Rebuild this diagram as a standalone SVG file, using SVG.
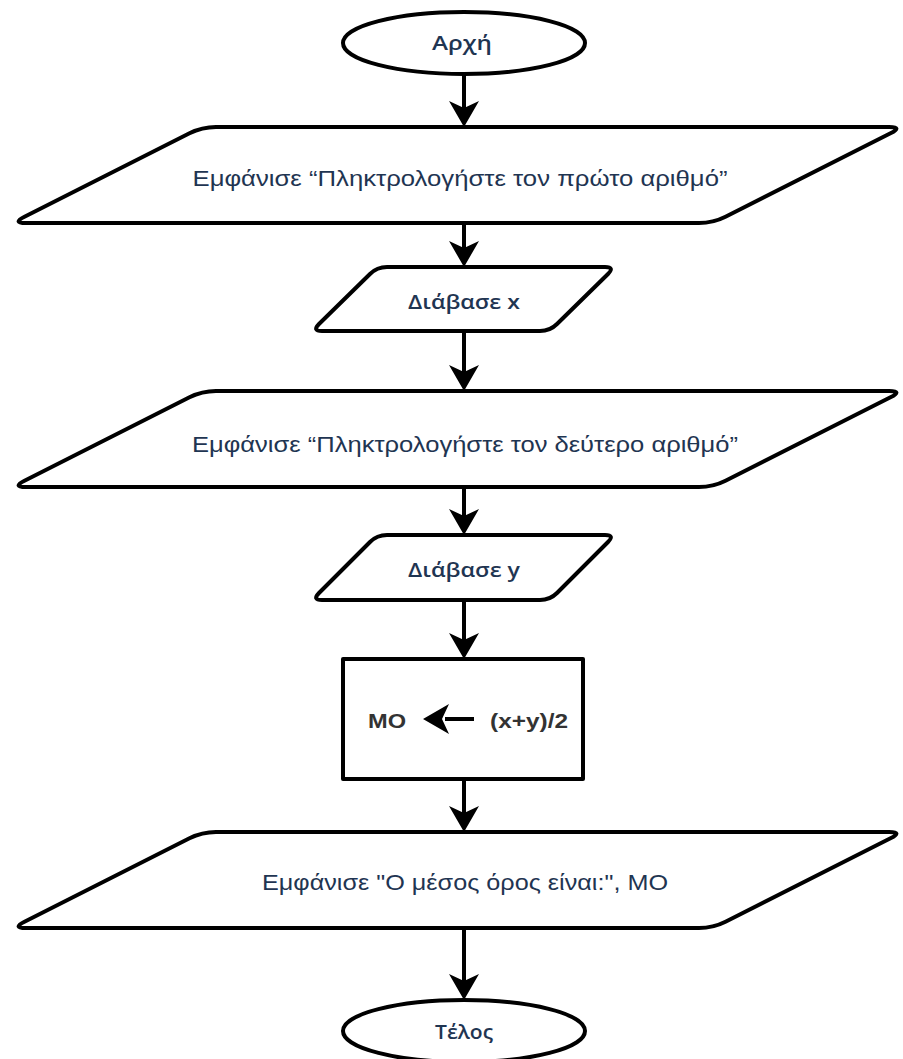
<svg xmlns="http://www.w3.org/2000/svg" xmlns:xlink="http://www.w3.org/1999/xlink" width="903" height="1059" viewBox="0 0 903 1059">
<style>
.shape{fill:#ffffff;stroke:#000000;stroke-width:4;stroke-linejoin:round}
.conn{stroke:#000000;stroke-width:4;fill:none}
.lbl{font-family:"Liberation Sans",Arial,sans-serif;fill:#1f3552;text-anchor:middle}
.term{font-family:"Open Sans","DejaVu Sans",sans-serif;fill:#1f3552;text-anchor:middle;font-size:20px;font-weight:600}
.calc{font-family:"Liberation Sans",Arial,sans-serif;fill:#333333;font-weight:bold;font-size:20px}
</style>
<defs>
<path id="ah" d="M0,0 L-15,-26 L0,-19 L15,-26 Z" fill="#000000"/>
</defs>
<rect width="903" height="1059" fill="#ffffff"/>
<g id="connectors">
<line class="conn" x1="464" y1="75" x2="464" y2="110"/>
<use xlink:href="#ah" x="464" y="127"/>
<line class="conn" x1="464" y1="223" x2="464" y2="250"/>
<use xlink:href="#ah" x="464" y="267"/>
<line class="conn" x1="464" y1="331" x2="464" y2="374"/>
<use xlink:href="#ah" x="464" y="391"/>
<line class="conn" x1="464" y1="487" x2="464" y2="518"/>
<use xlink:href="#ah" x="464" y="535"/>
<line class="conn" x1="464" y1="600" x2="464" y2="642"/>
<use xlink:href="#ah" x="464" y="659"/>
<line class="conn" x1="464" y1="779" x2="464" y2="815"/>
<use xlink:href="#ah" x="464" y="832"/>
<line class="conn" x1="464" y1="928" x2="464" y2="983"/>
<use xlink:href="#ah" x="464" y="1000"/>
</g>
<g id="start">
<ellipse class="shape" cx="464" cy="43" rx="121" ry="31" stroke-width="3.5"/>
<text class="term" x="462" y="50" textLength="60" lengthAdjust="spacingAndGlyphs">Αρχή</text>
</g>
<g id="print1">
<path class="shape" d="M24.5,216.7 L189.5,133.3 Q202,127 216,127 L889,127 Q903,127 890.5,133.3 L725.5,216.7 Q713,223 699,223 L26,223 Q12,223 24.5,216.7 Z"/>
<text class="lbl" x="460" y="186" font-size="22" textLength="535" lengthAdjust="spacingAndGlyphs">Εμφάνισε “Πληκτρολογήστε τον πρώτο αριθμό”</text>
</g>
<g id="read-x">
<path class="shape" d="M319,324 L370,274 Q377,267 387,267 L605,267 Q615,267 608,274 L557,324 Q550,331 540,331 L322,331 Q312,331 319,324 Z"/>
<text class="term" x="464" y="309" textLength="112" lengthAdjust="spacingAndGlyphs">Διάβασε x</text>
</g>
<g id="print2">
<path class="shape" d="M24.5,480.7 L189.5,397.3 Q202,391 216,391 L889,391 Q903,391 890.5,397.3 L725.5,480.7 Q713,487 699,487 L26,487 Q12,487 24.5,480.7 Z"/>
<text class="lbl" x="465" y="452" font-size="22" textLength="546" lengthAdjust="spacingAndGlyphs">Εμφάνισε “Πληκτρολογήστε τον δεύτερο αριθμό”</text>
</g>
<g id="read-y">
<path class="shape" d="M319,593 L370,542 Q377,535 387,535 L605,535 Q615,535 608,542 L557,593 Q550,600 540,600 L322,600 Q312,600 319,593 Z"/>
<text class="term" x="464" y="577" textLength="112" lengthAdjust="spacingAndGlyphs">Διάβασε y</text>
</g>
<g id="assign">
<rect class="shape" x="343" y="659" width="240" height="120" stroke-linejoin="miter"/>
<text class="calc" x="368" y="728" textLength="38" lengthAdjust="spacingAndGlyphs">ΜΟ</text>
<line class="conn" x1="445" y1="719" x2="474" y2="719"/>
<use xlink:href="#ah" transform="translate(423,719) rotate(90)"/>
<text class="calc" x="490" y="728" textLength="78" lengthAdjust="spacingAndGlyphs">(x+y)/2</text>
</g>
<g id="print3">
<path class="shape" d="M24.5,921.7 L189.5,838.3 Q202,832 216,832 L889,832 Q903,832 890.5,838.3 L725.5,921.7 Q713,928 699,928 L26,928 Q12,928 24.5,921.7 Z"/>
<text class="lbl" x="465" y="890" font-size="22" textLength="406" lengthAdjust="spacingAndGlyphs">Εμφάνισε "Ο μέσος όρος είναι:", ΜΟ</text>
</g>
<g id="end">
<ellipse class="shape" cx="464" cy="1031" rx="121" ry="31" stroke-width="3.5"/>
<text class="term" x="464" y="1039" textLength="58" lengthAdjust="spacingAndGlyphs">Τέλος</text>
</g>
</svg>
